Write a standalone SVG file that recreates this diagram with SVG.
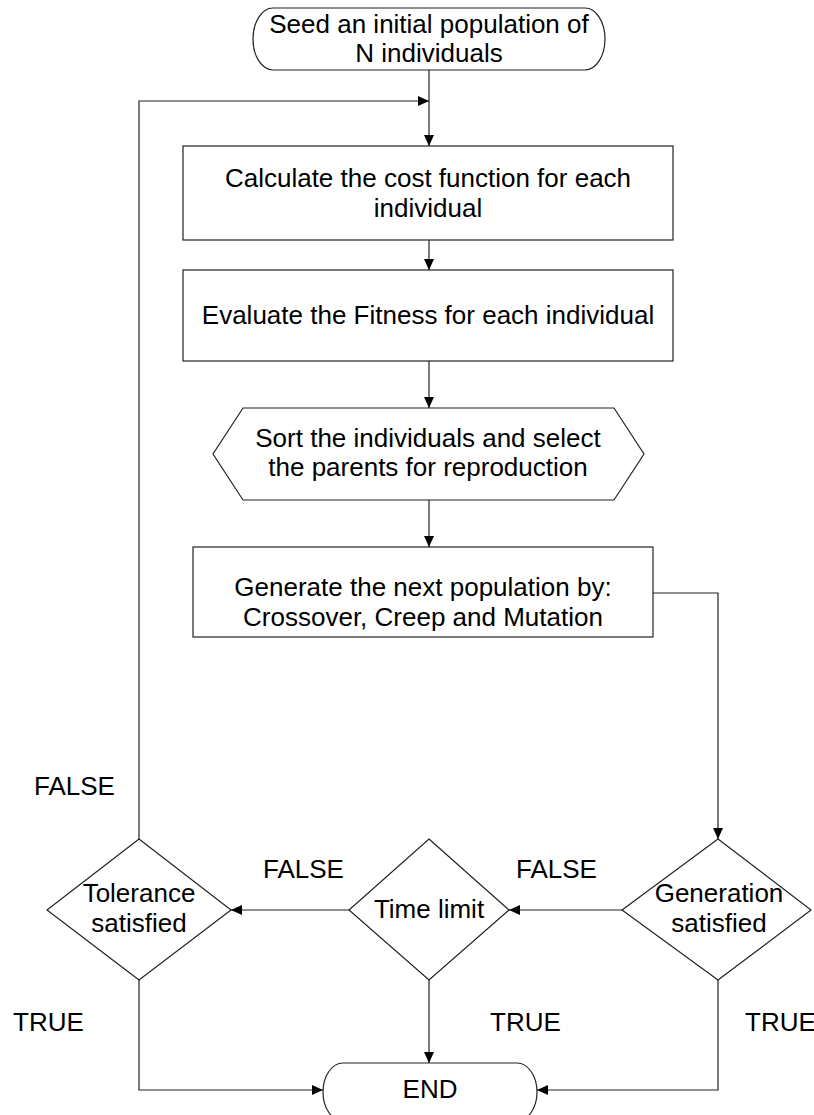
<svg xmlns="http://www.w3.org/2000/svg" width="814" height="1115" viewBox="0 0 814 1115">
<style>
.s{fill:#fff;stroke:#222;stroke-width:1.2}
.c{fill:none;stroke:#222;stroke-width:1.2}
text{font-family:"Liberation Sans",Arial,sans-serif;font-size:26px;fill:#000}
.m{text-anchor:middle}
</style>
<defs>
<marker id="ah" markerWidth="11" markerHeight="10" refX="11" refY="5" orient="auto" markerUnits="userSpaceOnUse">
<path d="M0,0 L11,5 L0,10 Z" fill="#000"/>
</marker>
</defs>
<rect width="814" height="1115" fill="#fff"/>
<g id="connectors">
<path class="c" d="M429,70 V146" marker-end="url(#ah)"/>
<path class="c" d="M139,839 V101 H429" marker-end="url(#ah)"/>
<path class="c" d="M429,240 V270" marker-end="url(#ah)"/>
<path class="c" d="M429,361 V408" marker-end="url(#ah)"/>
<path class="c" d="M429,500 V547" marker-end="url(#ah)"/>
<path class="c" d="M653,593 H718 V839" marker-end="url(#ah)"/>
<path class="c" d="M622,910 H509" marker-end="url(#ah)"/>
<path d="M622,910 L631,905.5 L631,914.5 Z" fill="#000"/>
<path class="c" d="M349,910 H231" marker-end="url(#ah)"/>
<path class="c" d="M139,980 V1090 H323" marker-end="url(#ah)"/>
<path class="c" d="M429,980 V1063" marker-end="url(#ah)"/>
<path class="c" d="M718,980 V1090 H537" marker-end="url(#ah)"/>
</g>
<g id="start">
<rect class="s" x="253" y="8" width="352" height="62" rx="20" ry="31"/>
<text class="m" x="429" y="33">Seed an initial population of</text>
<text class="m" x="429" y="62">N individuals</text>
</g>
<g id="calc">
<rect class="s" x="183" y="146" width="490" height="94"/>
<text class="m" x="428" y="187">Calculate the cost function for each</text>
<text class="m" x="428" y="217">individual</text>
</g>
<g id="evaluate">
<rect class="s" x="183" y="270" width="490" height="91"/>
<text class="m" x="428" y="324">Evaluate the Fitness for each individual</text>
</g>
<g id="sort">
<path class="s" d="M243,408 H614 L644,454 L614,500 H243 L213,454 Z"/>
<text class="m" x="428" y="447">Sort the individuals and select</text>
<text class="m" x="428" y="476">the parents for reproduction</text>
</g>
<g id="generate">
<rect class="s" x="193" y="547" width="460" height="90"/>
<text class="m" x="423" y="596">Generate the next population by:</text>
<text class="m" x="423" y="626">Crossover, Creep and Mutation</text>
</g>
<g id="tolerance">
<path class="s" d="M139,839 L231,910 L139,980 L47,910 Z"/>
<text class="m" x="139" y="902">Tolerance</text>
<text class="m" x="139" y="932">satisfied</text>
</g>
<g id="timelimit">
<path class="s" d="M429,839 L509,910 L429,980 L349,910 Z"/>
<text class="m" x="429" y="918">Time limit</text>
</g>
<g id="generation">
<path class="s" d="M718,839 L811,910 L718,980 L622,910 Z"/>
<text class="m" x="719" y="902">Generation</text>
<text class="m" x="719" y="932">satisfied</text>
</g>
<g id="end">
<rect class="s" x="323" y="1063" width="214" height="58" rx="20" ry="29"/>
<text class="m" x="430" y="1098">END</text>
</g>
<g id="labels">
<text x="34" y="795">FALSE</text>
<text x="263" y="878">FALSE</text>
<text x="516" y="878">FALSE</text>
<text x="13" y="1031">TRUE</text>
<text x="490" y="1031">TRUE</text>
<text x="745" y="1031">TRUE</text>
</g>
</svg>
